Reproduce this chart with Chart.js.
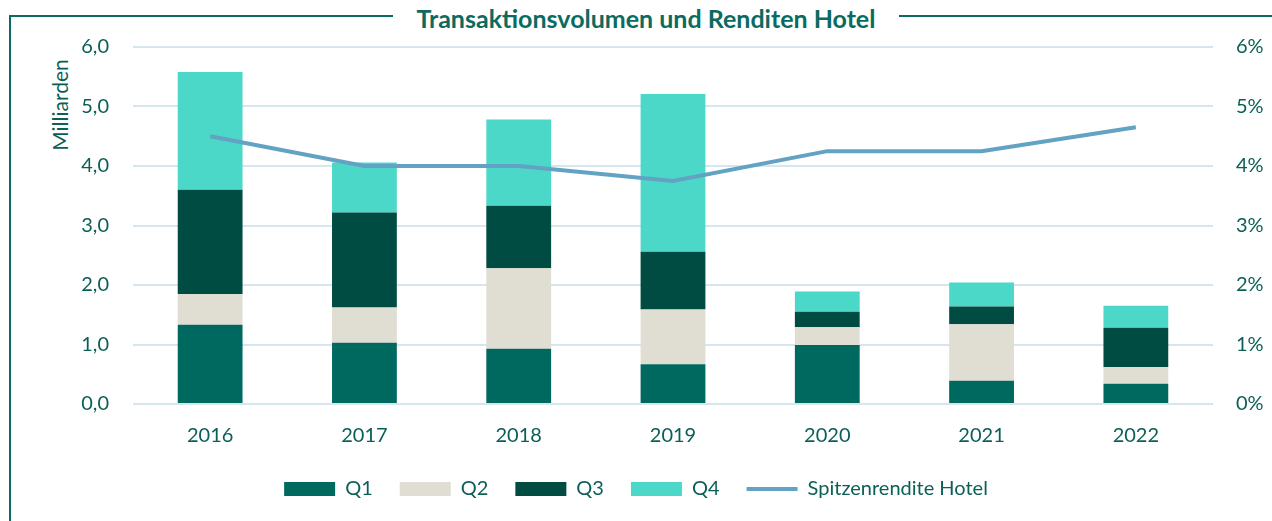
<!DOCTYPE html>
<html>
<head>
<meta charset="utf-8">
<script src="https://cdn.jsdelivr.net/npm/chart.js@4/dist/chart.umd.min.js"></script>
<style>
  html, body { margin: 0; padding: 0; background: #fff; }
  #wrap { position: relative; width: 1272px; height: 521px; overflow: hidden; font-family: Lato, "Open Sans", sans-serif; }
  #frame { position: absolute; left: 9px; top: 15px; width: 1300px; height: 600px; border-top: 2px solid #0b6b60; border-left: 2px solid #0b6b60; }
  #title { position: absolute; top: 2px; left: 10px; width: 1272px; text-align: center; line-height: 32px; }
  #title span { background: #fff; padding: 0 24px; color: #0b6b60; font-weight: bold; font-size: 25px; }
  #ytitle { position: absolute; left: 59px; top: 105px; transform: translate(-50%, -50%) rotate(-90deg); color: #0b5f56; font-size: 21px; white-space: nowrap; }
  canvas { position: absolute; left: 0; top: 0; }
</style>
</head>
<body>
<div id="wrap">
  <div id="frame"></div>
  <div id="title"><span>Transaktionsvolumen und Renditen Hotel</span></div>
  <div id="ytitle">Milliarden</div>
  <canvas id="chart" width="1272" height="521"></canvas>
</div>
<script>
// Jahre und Quartalsvolumen (Mrd.)
const years = ['2016', '2017', '2018', '2019', '2020', '2021', '2022'];
const q1 = [1.33, 1.03, 0.93, 0.67, 0.99, 0.39, 0.34];
const q2 = [0.52, 0.59, 1.35, 0.92, 0.30, 0.95, 0.28];
const q3 = [1.75, 1.60, 1.05, 0.97, 0.26, 0.30, 0.66];
const q4 = [1.98, 0.84, 1.45, 2.65, 0.34, 0.40, 0.37];
// Spitzenrendite in %
const yieldHotel = [4.50, 4.00, 4.00, 3.75, 4.25, 4.25, 4.65];

const textColor = '#0b5f56';
const gridColor = '#d6e6ee';

Chart.defaults.font.family = 'Lato, "Open Sans", sans-serif';
Chart.defaults.font.size = 20;
Chart.defaults.color = textColor;

const barDefaults = {
    type: 'bar',
    yAxisID: 'y',
    stack: 'vol',
    barPercentage: 0.42,
    categoryPercentage: 1.0,
    pointStyle: 'rect',
    order: 2
};

// Legende etwas naeher an die Achse ruecken
const legendShift = {
    id: 'legendShift',
    afterUpdate(chart) {
        if (chart.legend) {
            chart.legend.top -= 8;
            chart.legend.bottom -= 8;
        }
    }
};

new Chart(document.getElementById('chart'), {
    data: {
        labels: years,
        datasets: [
            Object.assign({}, barDefaults, { label: 'Q1', data: q1, backgroundColor: '#00695f' }),
            Object.assign({}, barDefaults, { label: 'Q2', data: q2, backgroundColor: '#e0ddd2' }),
            Object.assign({}, barDefaults, { label: 'Q3', data: q3, backgroundColor: '#004c42' }),
            Object.assign({}, barDefaults, { label: 'Q4', data: q4, backgroundColor: '#4cd8c8' }),
            {
                type: 'line',
                label: 'Spitzenrendite Hotel',
                data: yieldHotel,
                yAxisID: 'y2',
                borderColor: '#62a2c2',
                backgroundColor: '#62a2c2',
                borderWidth: 4,
                pointRadius: 0,
                pointStyle: 'line',
                tension: 0,
                order: 1
            }
        ]
    },
    plugins: [legendShift],
    options: {
        responsive: false,
        animation: false,
        layout: { padding: { top: 47, left: 0, right: 0, bottom: 4 } },
        plugins: {
            title: { display: false },
            tooltip: { enabled: false },
            legend: {
                position: 'bottom',
                labels: {
                    usePointStyle: true,
                    pointStyleWidth: 51,
                    boxHeight: 14,
                    padding: 27,
                    color: textColor,
                    font: { size: 20 },
                    sort: (a, b) => a.datasetIndex - b.datasetIndex
                }
            }
        },
        scales: {
            x: {
                stacked: true,
                grid: { display: false },
                border: { display: false },
                ticks: { padding: 12, color: textColor }
            },
            y: {
                stacked: true,
                position: 'left',
                min: 0,
                max: 6,
                grid: { color: gridColor, lineWidth: 2, drawTicks: false },
                border: { display: false },
                ticks: {
                    stepSize: 1,
                    padding: 24,
                    color: textColor,
                    callback: v => v.toFixed(1).replace('.', ',')
                },
                afterFit: s => { s.width = 133; }
            },
            y2: {
                position: 'right',
                min: 0,
                max: 6,
                grid: { display: false, drawTicks: false },
                border: { display: false },
                ticks: {
                    stepSize: 1,
                    padding: 23,
                    color: textColor,
                    callback: v => v + '%'
                },
                afterFit: s => { s.width = 59; }
            }
        }
    }
});
</script>
</body>
</html>
